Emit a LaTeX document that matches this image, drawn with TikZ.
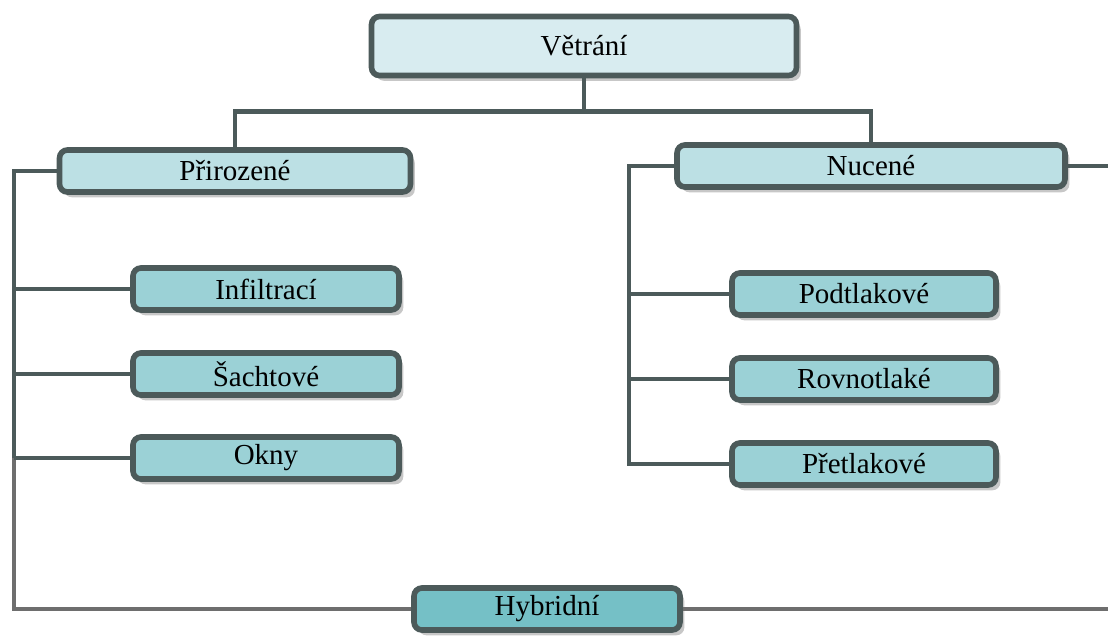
\documentclass[tikz,border=0pt]{standalone}
\usepackage{fontspec}
\setmainfont{Liberation Serif}
\usetikzlibrary{positioning}
\usetikzlibrary{shadows}
\definecolor{edgegray}{RGB}{76,90,90}
\definecolor{lowgray}{RGB}{110,110,110}
\definecolor{rootfill}{RGB}{216,236,240}
\definecolor{midfill}{RGB}{188,224,228}
\definecolor{leaffill}{RGB}{155,209,214}
\definecolor{hybfill}{RGB}{117,192,198}
\tikzset{
vbox/.style 2 args={draw=edgegray, line width=3.2pt, rounded corners=4.5pt,
	fill=#1, minimum width=#2, minimum height=0.84cm, inner sep=0pt,
	font=\fontsize{16.5}{19}\selectfont,
	drop shadow={shadow xshift=2.5pt, shadow yshift=-3pt, fill=black!22, opacity=1}},
link/.style={draw=edgegray, line width=2.6pt},
linklow/.style={draw=lowgray, line width=2.6pt},
}
\begin{document}
\begin{tikzpicture}[x=0.02cm, y=-0.02cm]
	\useasboundingbox (0,0) rectangle (1108,637);
	\node[vbox={rootfill}{8.5cm}, minimum height=1.18cm] (root) at (584,46) {Větrání};
	\node[vbox={midfill}{7.02cm}] (nat) at (235,171) {Přirozené};
	\node[vbox={midfill}{7.76cm}] (forc) at (871,166) {Nucené};
	
	\node[vbox={leaffill}{5.32cm}] (inf) at (266,289) {Infiltrací};
	\node[vbox={leaffill}{5.32cm}] (sach) at (266,374) {Šachtové};
	\node[vbox={leaffill}{5.32cm}] (okn) at (266,458) {Okny};
	
	\node[vbox={leaffill}{5.28cm}] (podt) at (864,294) {Podtlakové};
	\node[vbox={leaffill}{5.28cm}] (rovn) at (864,379) {Rovnotlaké};
	\node[vbox={leaffill}{5.28cm}] (pret) at (864,464) {Přetlakové};
	
	\node[vbox={hybfill}{5.32cm}] (hyb) at (547,609) {Hybridní};
	
	\coordinate (lbus) at (14,0);
	\coordinate (rbus) at (629,0);
	\coordinate (forcend) at (1108,166);
	\coordinate (hybend) at (1108,609);
	
	% root to the two branches
	\draw[link] (root.south) -- ++(0,33) -| (nat.north);
	\draw[link] (root.south) ++(0,33) -| (forc.north);
	
	% left bus
	\draw[link] (nat.west) -- (lbus |- nat.west) -- (lbus |- okn.west);
	\draw[linklow] (lbus |- okn.west) -- (lbus |- hyb.west) -- (hyb.west);
	\draw[link] (lbus |- inf.west) -- (inf.west);
	\draw[link] (lbus |- sach.west) -- (sach.west);
	\draw[link] (lbus |- okn.west) -- (okn.west);
	
	% right bus
	\draw[link] (forc.west) -- (rbus |- forc.west) -- (rbus |- pret.west) -- (pret.west);
	\draw[link] (rbus |- podt.west) -- (podt.west);
	\draw[link] (rbus |- rovn.west) -- (rovn.west);
	
	% lines running off the page
	\draw[link] (forc.east) -- (forcend);
	\draw[linklow] (hyb.east) -- (hybend);
\end{tikzpicture}
\end{document}
